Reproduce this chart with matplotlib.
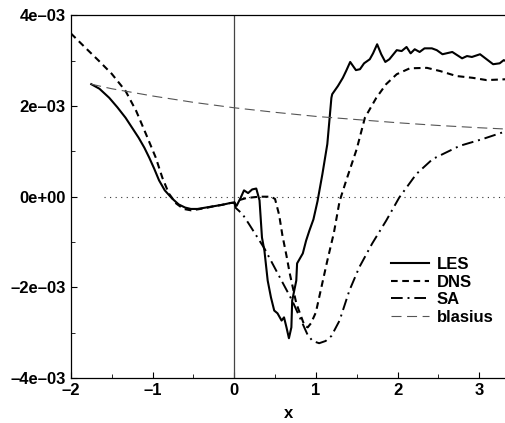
import matplotlib
matplotlib.use("Agg")
import matplotlib.pyplot as plt
from matplotlib.ticker import MultipleLocator, FuncFormatter

plt.rcParams["font.family"] = ["Liberation Sans", "DejaVu Sans"]
plt.rcParams["font.weight"] = "bold"

# skin friction, units of 1e-3
les_x = [-1.75, -1.65, -1.53, -1.43, -1.33, -1.25, -1.17, -1.10, -1.04, -0.98, -0.92,
         -0.85, -0.76, -0.68, -0.60, -0.53, -0.45, -0.35, -0.25, -0.15, -0.05, 0.0,
         0.03, 0.08, 0.12, 0.17, 0.22, 0.27, 0.31, 0.34, 0.37, 0.41, 0.45, 0.49,
         0.53, 0.58, 0.61, 0.64, 0.67, 0.70, 0.71, 0.76, 0.77, 0.84, 0.88, 0.92,
         0.97, 1.02, 1.08, 1.14, 1.19, 1.20, 1.27, 1.33, 1.37, 1.42, 1.49, 1.54,
         1.59, 1.66, 1.70, 1.75, 1.80, 1.85, 1.90, 1.99, 2.05, 2.11, 2.16, 2.21,
         2.27, 2.33, 2.42, 2.48, 2.55, 2.67, 2.79, 2.85, 2.91, 3.01, 3.09, 3.17,
         3.25, 3.30, 3.34]
les_y = [2.48, 2.38, 2.18, 1.97, 1.74, 1.52, 1.30, 1.08, 0.86, 0.62, 0.36,
         0.14, -0.04, -0.17, -0.24, -0.27, -0.27, -0.24, -0.21, -0.18, -0.14, -0.13,
         -0.20, -0.02, 0.14, 0.08, 0.16, 0.18, -0.08, -0.90, -1.19, -1.85, -2.22, -2.51,
         -2.57, -2.73, -2.66, -2.88, -3.12, -2.88, -2.29, -1.85, -1.47, -1.25, -0.97, -0.75,
         -0.50, -0.10, 0.50, 1.16, 2.18, 2.26, 2.44, 2.62, 2.77, 2.97, 2.79, 2.81,
         2.94, 3.03, 3.16, 3.36, 3.14, 2.97, 3.03, 3.23, 3.21, 3.30, 3.16, 3.25,
         3.19, 3.27, 3.27, 3.23, 3.14, 3.19, 3.05, 3.10, 3.08, 3.14, 3.03, 2.92,
         2.94, 3.01, 2.98]

dns_x = [-2.0, -1.82, -1.66, -1.50, -1.33, -1.20, -1.08, -0.96, -0.88, -0.80, -0.71,
         -0.62, -0.53, -0.45, -0.35, -0.25, -0.15, -0.05, 0.0, 0.05, 0.15, 0.30, 0.45,
         0.50, 0.55, 0.59, 0.64, 0.68, 0.76, 0.86, 0.90, 0.94, 1.00, 1.04, 1.14,
         1.22, 1.29, 1.37, 1.50, 1.60, 1.74, 1.86, 1.99, 2.15, 2.36, 2.52, 2.72,
         2.92, 3.09, 3.34]
dns_y = [3.60, 3.28, 3.00, 2.71, 2.33, 1.89, 1.38, 0.86, 0.42, 0.07, -0.15,
         -0.27, -0.30, -0.28, -0.25, -0.21, -0.18, -0.14, -0.13, -0.08, -0.03, 0.0, 0.0,
         -0.05, -0.40, -0.85, -1.30, -1.69, -2.35, -2.84, -2.88, -2.79, -2.55, -2.22, -1.41,
         -0.80, -0.10, 0.35, 1.05, 1.74, 2.18, 2.48, 2.70, 2.83, 2.84, 2.77, 2.66,
         2.62, 2.57, 2.59]

sa_x = [0.0, 0.02, 0.10, 0.18, 0.31, 0.37, 0.55, 0.71, 0.82, 0.90, 0.96, 1.04,
        1.12, 1.19, 1.29, 1.41, 1.53, 1.69, 1.86, 2.02, 2.23, 2.43, 2.76, 3.04, 3.34]
sa_y = [-0.13, -0.25, -0.38, -0.60, -0.97, -1.14, -1.75, -2.29, -2.73, -3.05, -3.18, -3.23,
        -3.18, -3.07, -2.73, -2.07, -1.56, -1.03, -0.53, -0.02, 0.50, 0.83, 1.12, 1.27, 1.45]

blasius_x = [-1.75, -1.5, -1.0, -0.5, 0.0, 0.5, 1.0, 1.5, 2.0, 2.5, 3.0, 3.34]
blasius_y = [2.48, 2.38, 2.22, 2.08, 1.96, 1.86, 1.77, 1.70, 1.63, 1.57, 1.52, 1.49]


def scale(vals):
    return [v * 1e-3 for v in vals]


fig = plt.figure(figsize=(5.06, 4.23), dpi=100)
ax = fig.add_axes([0.140, 0.106, 0.862, 0.858])

ax.axvline(0.0, color="#444444", lw=0.9)
ax.plot([-1.6, 3.4], [0, 0], color="#333333", lw=0.8, linestyle=(0, (1, 4)))

ax.plot(les_x, scale(les_y), color="black", lw=1.5, label="LES")
ax.plot(dns_x, scale(dns_y), color="black", lw=1.5, linestyle=(0, (3.2, 2.2)), label="DNS")
ax.plot(sa_x, scale(sa_y), color="black", lw=1.4, linestyle=(0, (6, 2.5, 1, 2.5)), label="SA")
ax.plot(blasius_x, scale(blasius_y), color="#555555", lw=0.8, linestyle=(0, (9, 5)), label="blasius")

ax.set_xlim(-2, 3.34)
ax.set_ylim(-4e-3, 4e-3)
ax.xaxis.set_major_locator(MultipleLocator(1))
ax.xaxis.set_minor_locator(MultipleLocator(0.5))
ax.yaxis.set_major_locator(MultipleLocator(2e-3))
ax.yaxis.set_minor_locator(MultipleLocator(1e-3))
ax.yaxis.set_major_formatter(FuncFormatter(lambda v, pos: f"{v:.0e}".replace("-", "\u2013")))
ax.xaxis.set_major_formatter(FuncFormatter(lambda v, pos: f"{v:.0f}".replace("-", "\u2013")))
ax.tick_params(which="both", direction="in", top=False, right=False, labelsize=12)
ax.tick_params(which="major", length=4)
ax.tick_params(which="minor", length=3)
ax.spines["right"].set_visible(False)
for s in ("left", "bottom", "top"):
    ax.spines[s].set_linewidth(0.9)

ax.set_xlabel("x", fontsize=12, fontweight="bold", labelpad=6)

ax.legend(loc="center left", bbox_to_anchor=(0.70, 0.24), frameon=False,
          fontsize=12, handlelength=2.3, handletextpad=0.45, labelspacing=0.15)

fig.savefig("out.png", dpi=100)
